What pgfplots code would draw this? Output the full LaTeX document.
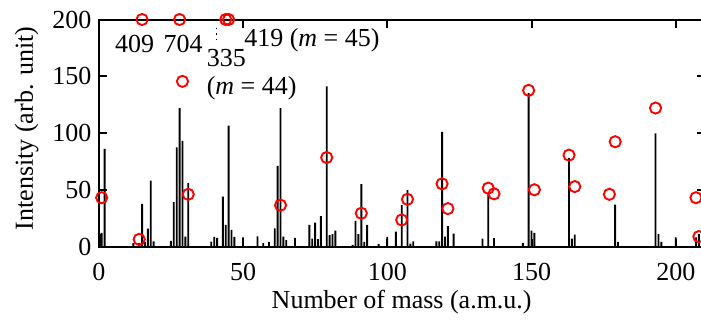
\documentclass[border=0pt]{standalone}
\usepackage{fontspec}
\setmainfont{Liberation Serif}
\usepackage{pgfplots}
\pgfplotsset{compat=1.18}
\begin{document}
\fontsize{13}{15.6}\selectfont
\begin{tikzpicture}
\begin{axis}[
  scale only axis, width=302.9pt, height=113.5pt,
  xmin=0, xmax=210, ymin=0, ymax=200,
  xtick={0,50,...,200}, ytick={0,50,...,200},
  minor tick num=0,
  tick align=inside, xtick pos=both, ytick pos=both,
  xticklabel pos=lower, yticklabel pos=left,
  major tick length=4pt,
  axis line style={line width=1pt},
  every tick/.style={line width=1pt, black},
  /pgf/number format/assume math mode=true,
  xticklabel style={anchor=north, inner sep=0pt, yshift=-8.2pt},
  yticklabel style={anchor=east, inner sep=0pt, xshift=-3.5pt},
  xlabel={Number of mass (a.m.u.)},
  ylabel={Intensity (arb. unit)},
  every axis x label/.style={at={(axis description cs:0.5,-0.245)}, anchor=center},
  every axis y label/.style={at={(axis description cs:-0.119,0.52)}, rotate=90, anchor=center},
  clip=false,
]
\coordinate (SW) at (rel axis cs:0,0);
\coordinate (NE) at (rel axis cs:1,1);
\addplot[ybar, bar width=0.65, bar shift=0pt, fill=black, draw=none] coordinates {
(0.4,11) (1,12) (2,86)
(12,3) (14,3) (15,37.5) (16,4) (17,15.7) (18,58) (19,4.6)
(25,4.9) (26,39.2) (27,87.3) (28,121.9) (29,93.1) (30,8.6) (31,55.8)
(39,4.3) (40,8.5) (41,7.5) (43,44) (44,19) (45,106.4) (46,14.6) (47,8.5)
(50,8) (55,9) (57,3) (59,4) (61,16) (62,71) (63,122) (64,8.6) (65,5.7) (68,7.5)
(73,19) (74,7) (75,21) (76,6.5) (77,26.7) (79,141) (80,10) (81,11) (82,14)
(88,1.5) (89,22.5) (90,11) (91,54.9) (92,4) (93,19) (97,2) (100,8.5)
(103,13) (105,36.5) (107,49.6) (108,2.5) (109,4.5)
(117,4.5) (118,4.5) (119,101) (120,8.6) (121,18) (123,11.3)
(133,7) (135,46) (137,7.3)
(147,3.2) (149,135.3) (150,14) (151,12)
(163,78) (164,7) (165,10.5)
(179,37) (180,4) (193,99.6) (194,11) (195,4)
(200,8) (207,8) (208,11)
};
\addplot[only marks, mark=o, mark size=2.8pt, mark options={line width=0.95pt, draw=red}] coordinates {
(1,43) (14,6.3) (15,200) (28,200) (29,145.5) (31,46) (44,200) (45,200)
(63,36.4) (79,78.4) (91,29.3) (105,23.4) (107,41.6) (119,55.2) (121,33.4)
(135,51.4) (137,46.4) (149,137.6) (151,50) (163,80.5) (165,52.8)
(177,46) (179,92.3) (193,122) (207,43) (208,8.7)
};
\node[anchor=base west, inner sep=0pt] at (axis cs:5.5,171) {409};
\node[anchor=base west, inner sep=0pt] at (axis cs:22.3,171) {704};
\node[anchor=base west, inner sep=0pt] at (axis cs:37.3,158.8) {335};
\node[anchor=base west, inner sep=0pt] at (axis cs:37.3,134) {(\textit{m} = 44)};
\node[anchor=base west, inner sep=0pt] at (axis cs:50.3,176.6) {419 (\textit{m} = 45)};
\draw[dotted, line width=0.7pt] (axis cs:40.8,192.7) -- (axis cs:40.8,180.8);
\end{axis}
\pgfresetboundingbox
\path ([xshift=-49.4pt,yshift=-40.25pt]SW) rectangle ([xshift=-1.8pt,yshift=9.75pt]NE);
\end{tikzpicture}
\end{document}
